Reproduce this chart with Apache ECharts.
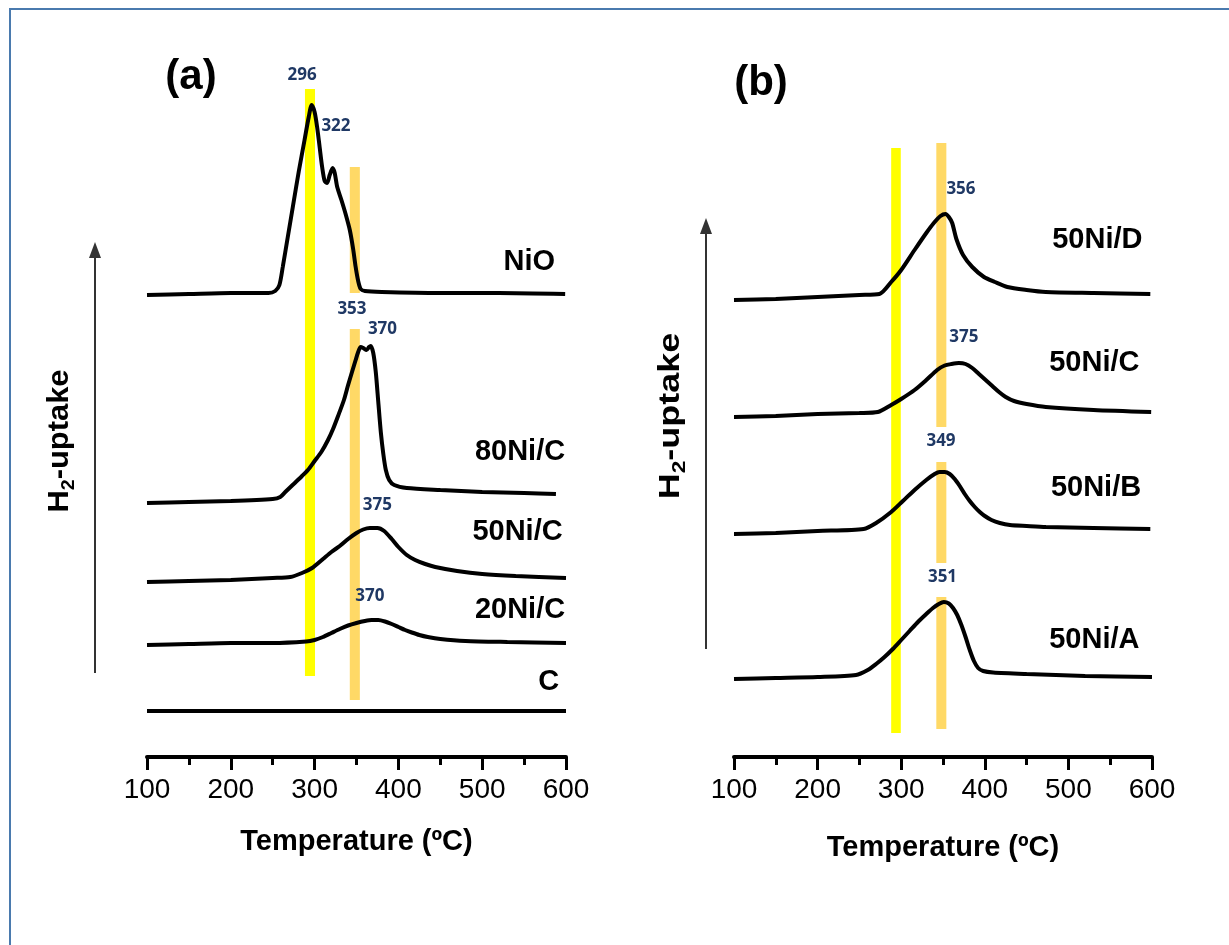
<!DOCTYPE html>
<html>
<head>
<meta charset="utf-8">
<script src="https://cdn.jsdelivr.net/npm/echarts@6/dist/echarts.min.js"></script>
<style>
html, body { margin: 0; padding: 0; background: #fff; }
#main { width: 1229px; height: 945px; }
</style>
</head>
<body>
<div id="main"></div>
<script>
// H2-TPR profiles: temperature (ºC) vs signal (arbitrary units, curves offset)
var tempTicks = [100, 200, 300, 400, 500, 600];
var namesA = ['NiO', '80Ni/C', '50Ni/C', '20Ni/C', 'C'];
var namesB = ['50Ni/D', '50Ni/C', '50Ni/B', '50Ni/A'];
var peaksA = ['296', '322', '353', '370', '375', '370'];
var peaksB = ['356', '375', '349', '351'];

// panel (a)
var nio = [[100,462],[150,463],[200,464],[245,464],[253,466],[258,472],[262,490],[268,520],[274,550],[281,585],[288,617],[293,640],[296.5,652],[300,645],[303,630],[306,610],[309,590],[312,576],[315,574],[318,582],[321.5,589],[324,584],[327,570],[332,557],[337,543],[342,527],[346,508],[349,490],[352,476],[355,468],[360,466],[380,465],[450,464],[520,464],[599,463]];
var ni80c = [[100,254],[150,255],[200,256],[250,258],[259,260],[265,265],[275,273],[285,281],[292,287],[300,296],[308,305],[316,317],[322,328],[328,341],[335,357],[340,372],[345,386],[349,397],[352,405],[355,410],[358,409],[362,407],[365,410],[367,411],[370,404],[373,385],[376,355],[379,325],[382,303],[385,287],[389,277],[395,272],[410,269],[450,267],[500,265],[550,264],[588,263]];
var ni50cA = [[100,175],[150,176],[200,177],[250,179],[271,180],[285,184],[297,189],[310,198],[320,205],[330,211],[340,218],[350,224],[358,227.5],[366,229],[375,229],[383,226],[392,218],[400,210],[410,202],[420,197],[432,193],[444,190],[470,186],[500,183],[540,181],[600,179]];
var ni20c = [[100,112],[150,113],[200,114],[250,114],[290,115.5],[300,117],[310,120],[320,124],[330,128],[340,131.5],[350,134],[360,136],[368,137],[376,137],[384,135.5],[392,133],[400,130],[408,127],[416,124.5],[425,122],[435,120],[450,118],[480,116],[530,115],[600,114]];
var carbon = [[100,46],[200,46],[300,46],[400,46],[500,46],[600,46]];

// panel (b)
var ni50d = [[100,457],[150,458],[200,460],[250,462],[274,463],[288,475],[300,487],[316,507],[330,524],[339,534],[347,541],[353,543],[357,540],[361,534],[366,518],[374,502],[385,490],[399,480],[412,475],[427,470],[450,467],[473,465],[530,464],[598,463]];
var ni50cB = [[100,340],[150,341],[200,343],[250,344],[272,345],[288,352],[300,358],[316,367],[330,377],[343,387],[352,391.5],[360,393],[369,394],[377,393],[385,389],[393,383],[401,377],[409,371],[417,365],[425,360],[435,356],[450,353],[473,350],[530,347],[599,345]];
var ni50b = [[100,223],[150,224],[200,226],[255,228],[270,234],[288,245],[302,256],[316,267],[330,277],[340,283],[346,285],[352,285],[358,283],[364,278],[370,271],[376,263],[382,256],[388,250],[394,245],[400,241],[408,237],[418,234],[430,232],[450,231],[473,230],[530,229],[598,228]];
var ni50a = [[100,78],[150,79],[200,80],[246,82],[260,87],[270,93],[280,100],[290,108],[300,117],[310,126],[320,135],[330,143],[338,149],[345,153],[351,155],[357,153.5],[362,149],[367,142],[372,132],[377,120],[382,107],[387,96],[392,89],[398,86],[410,84.5],[450,83],[520,81],[600,80]];

var font = "'Liberation Sans', Arial, sans-serif";
var curvesA = [nio, ni80c, ni50cA, ni20c, carbon];
var curvesB = [ni50d, ni50cB, ni50b, ni50a];

// reference bands: [xFrom, xTo, yFrom, yTo]
var yellowA = [[288.5, 300.5, 81, 668]];
var orangeA = [[342, 354, 464, 590], [342, 354, 57, 428]];
var yellowB = [[288, 299.5, 24, 609]];
var orangeB = [[342, 354, 330, 614], [342, 354, 194, 295], [342, 354, 28, 160]];

// label anchors in data units
var nameAtA = [[587,495],[599,305],[596,225],[599,147],[592,75]];
var nameAtB = [[588.6,517],[585,394],[587,269],[585,117]];
var peakAtA = [[285,682],[325.5,631],[344.6,448],[381,428],[375,252],[366,161]];
var peakAtB = [[371.5,568],[375,420],[347.6,316],[349.4,180]];

function bandAreas(list, color) {
  return list.map(function (b) {
    return [{ coord: [b[0], b[2]], itemStyle: { color: color } }, { coord: [b[1], b[3]] }];
  });
}

function xAxisFor(idx) {
  return {
    gridIndex: idx, type: 'value', min: 100, max: 600, interval: 100,
    axisLine: { show: true, onZero: false, lineStyle: { color: '#000', width: 4 } },
    axisTick: { show: true, length: 13, lineStyle: { color: '#000', width: 3 } },
    minorTick: { show: true, splitNumber: 2, length: 8, lineStyle: { color: '#000', width: 3 } },
    splitLine: { show: false },
    axisLabel: { color: '#000', fontSize: 28, fontFamily: font, margin: 19 },
    name: 'Temperature (ºC)', nameLocation: 'middle', nameGap: idx ? 76 : 70,
    nameTextStyle: { color: '#000', fontSize: 29, fontWeight: 'bold', fontFamily: font }
  };
}

var series = [];
function addCurves(list, idx) {
  list.forEach(function (d) {
    series.push({
      type: 'line', xAxisIndex: idx, yAxisIndex: idx, data: d,
      smooth: 0.25, showSymbol: false, silent: true, z: 3,
      lineStyle: { color: '#000', width: 4 }
    });
  });
}
addCurves(curvesA, 0);
addCurves(curvesB, 1);
[[yellowA, orangeA], [yellowB, orangeB]].forEach(function (p, idx) {
  series.push({
    type: 'line', xAxisIndex: idx, yAxisIndex: idx, data: [], z: 1, silent: true,
    markArea: {
      silent: true,
      data: bandAreas(p[0], '#FFFF00').concat(bandAreas(p[1], '#FFD966'))
    }
  });
});

var myChart = echarts.init(document.getElementById('main'));
var option = {
  animation: false,
  backgroundColor: '#fff',
  grid: [
    { left: 147, top: 57, width: 419, height: 700 },
    { left: 734, top: 57, width: 418, height: 700 }
  ],
  xAxis: [xAxisFor(0), xAxisFor(1)],
  yAxis: [
    { gridIndex: 0, type: 'value', min: 0, max: 700, show: false },
    { gridIndex: 1, type: 'value', min: 0, max: 700, show: false }
  ],
  series: series
};
myChart.setOption(option);

// annotations placed through the axes
var graphics = [];
function px(idx, p) { return myChart.convertToPixel({ gridIndex: idx }, p); }
function names(list, at, idx) {
  list.forEach(function (t, i) {
    var p = px(idx, at[i]);
    graphics.push({ type: 'text', x: p[0], y: p[1], z: 10, silent: true,
      style: { text: t, fill: '#000', font: 'bold 29px ' + font, align: 'right', verticalAlign: 'middle' } });
  });
}
function peaks(list, at, idx) {
  list.forEach(function (t, i) {
    var p = px(idx, at[i]);
    graphics.push({ type: 'text', x: p[0], y: p[1], z: 10, silent: true,
      style: { text: t, fill: '#1F3864', font: "bold 17px 'Noto Sans', sans-serif", align: 'center', verticalAlign: 'middle' } });
  });
}
names(namesA, nameAtA, 0);
names(namesB, nameAtB, 1);
peaks(peaksA, peakAtA, 0);
peaks(peaksB, peakAtB, 1);

function uptake(x, y, sx) {
  graphics.push({ type: 'text', x: x, y: y, rotation: Math.PI / 2, scaleX: sx, silent: true,
    style: {
      text: '{a|H}{s|2}{a|-uptake}', align: 'center', verticalAlign: 'middle',
      rich: {
        a: { fontSize: 30, fontWeight: 'bold', fontFamily: font, fill: '#000', lineHeight: 36 },
        s: { fontSize: 19, fontWeight: 'bold', fontFamily: font, fill: '#000', lineHeight: 20, verticalAlign: 'bottom' }
      }
    } });
}
uptake(60, 441, 1.03);
uptake(671, 416, 1.2);

function arrow(x, yBottom, yTip) {
  graphics.push({ type: 'line', silent: true, shape: { x1: x, y1: yBottom, x2: x, y2: yTip + 14 },
    style: { stroke: '#333', lineWidth: 2 } });
  graphics.push({ type: 'polygon', silent: true, shape: { points: [[x - 6, yTip + 16], [x + 6, yTip + 16], [x, yTip]] },
    style: { fill: '#333' } });
}
arrow(95, 673, 242);
arrow(706, 649, 218);

graphics.push({ type: 'text', x: 191, y: 77, silent: true,
  style: { text: '(a)', fill: '#000', font: 'bold 42px ' + font, align: 'center', verticalAlign: 'middle' } });
graphics.push({ type: 'text', x: 761, y: 83, silent: true,
  style: { text: '(b)', fill: '#000', font: 'bold 42px ' + font, align: 'center', verticalAlign: 'middle' } });
graphics.push({ type: 'rect', silent: true, shape: { x: 10, y: 9, width: 1400, height: 1100 },
  style: { fill: 'none', stroke: '#4A7AAE', lineWidth: 2 } });

myChart.setOption({ graphic: graphics });
</script>
</body>
</html>
